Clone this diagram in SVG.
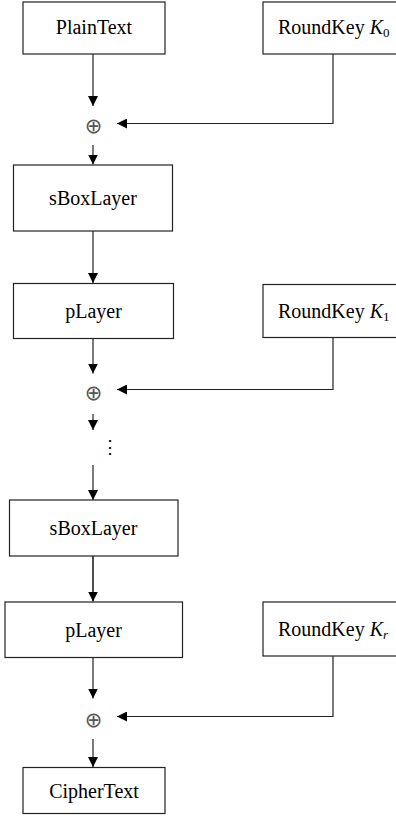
<svg xmlns="http://www.w3.org/2000/svg" width="396" height="816" viewBox="0 0 396 816">
<style>
.box{fill:#fff;stroke:#222;stroke-width:1.2}
.lbl{font-family:"Liberation Serif","Times New Roman",serif;font-size:20px;fill:#000;text-anchor:middle}
.key{font-family:"Liberation Serif","Times New Roman",serif;font-size:20px;fill:#000}
.xor{font-family:"DejaVu Sans",sans-serif;font-size:21px;fill:#555;text-anchor:middle}
.c{fill:none;stroke:#222;stroke-width:1.2}
</style>
<defs>
<marker id="ah" viewBox="0 0 10 10" refX="10" refY="5" markerWidth="10" markerHeight="10" markerUnits="userSpaceOnUse" orient="auto">
<path d="M0,0 L10,5 L0,10 Z" fill="#000"/>
</marker>
</defs>
<g id="connectors">
<line class="c" x1="93" y1="54" x2="93" y2="106" marker-end="url(#ah)"/>
<polyline class="c" points="333,54 333,123.5 117,123.5" marker-end="url(#ah)"/>
<line class="c" x1="93" y1="145" x2="93" y2="164.5" marker-end="url(#ah)"/>
<line class="c" x1="93" y1="231" x2="93" y2="283" marker-end="url(#ah)"/>
<line class="c" x1="93" y1="338.5" x2="93" y2="373.5" marker-end="url(#ah)"/>
<polyline class="c" points="333,337.5 333,389.5 117,389.5" marker-end="url(#ah)"/>
<line class="c" x1="93" y1="414" x2="93" y2="430" marker-end="url(#ah)"/>
<line class="c" x1="93" y1="465" x2="93" y2="500" marker-end="url(#ah)"/>
<line class="c" x1="93" y1="556" x2="93" y2="601.5" marker-end="url(#ah)" style="stroke-width:1.6"/>
<line class="c" x1="93" y1="657.5" x2="93" y2="698.5" marker-end="url(#ah)"/>
<polyline class="c" points="333,656 333,716.5 117,716.5" marker-end="url(#ah)"/>
<line class="c" x1="93" y1="739" x2="93" y2="767" marker-end="url(#ah)"/>
</g>
<g id="plaintext">
<rect class="box" x="23" y="2" width="142" height="52"/>
<text class="lbl" x="94" y="34">PlainText</text>
</g>
<g id="key0">
<rect class="box" x="263" y="2" width="140" height="52"/>
<text class="key" x="278" y="34">RoundKey <tspan font-style="italic">K</tspan><tspan font-size="13" dy="3">0</tspan></text>
</g>
<g id="xor1"><text class="xor" x="93.5" y="133">⊕</text></g>
<g id="sbox1">
<rect class="box" x="13.5" y="165" width="159" height="66"/>
<text class="lbl" x="93" y="205">sBoxLayer</text>
</g>
<g id="player1">
<rect class="box" x="13.5" y="283.5" width="160" height="55"/>
<text class="lbl" x="93.5" y="318">pLayer</text>
</g>
<g id="key1">
<rect class="box" x="263" y="284.5" width="140" height="53"/>
<text class="key" x="278" y="318">RoundKey <tspan font-style="italic">K</tspan><tspan font-size="13" dy="3">1</tspan></text>
</g>
<g id="xor2"><text class="xor" x="93.5" y="400">⊕</text></g>
<g id="dots"><text class="lbl" x="109.5" y="453" style="font-size:18px">⋮</text></g>
<g id="sbox2">
<rect class="box" x="9.5" y="500" width="168.5" height="56"/>
<text class="lbl" x="93.5" y="535">sBoxLayer</text>
</g>
<g id="player2">
<rect class="box" x="5" y="602" width="177.5" height="55.5"/>
<text class="lbl" x="93.5" y="637">pLayer</text>
</g>
<g id="keyr">
<rect class="box" x="263" y="602" width="140" height="54"/>
<text class="key" x="278" y="636">RoundKey <tspan font-style="italic">K</tspan><tspan font-size="13" font-style="italic" dy="3">r</tspan></text>
</g>
<g id="xor3"><text class="xor" x="93.5" y="727">⊕</text></g>
<g id="ciphertext">
<rect class="box" x="23" y="767.5" width="142" height="46"/>
<text class="lbl" x="94" y="798">CipherText</text>
</g>
</svg>
